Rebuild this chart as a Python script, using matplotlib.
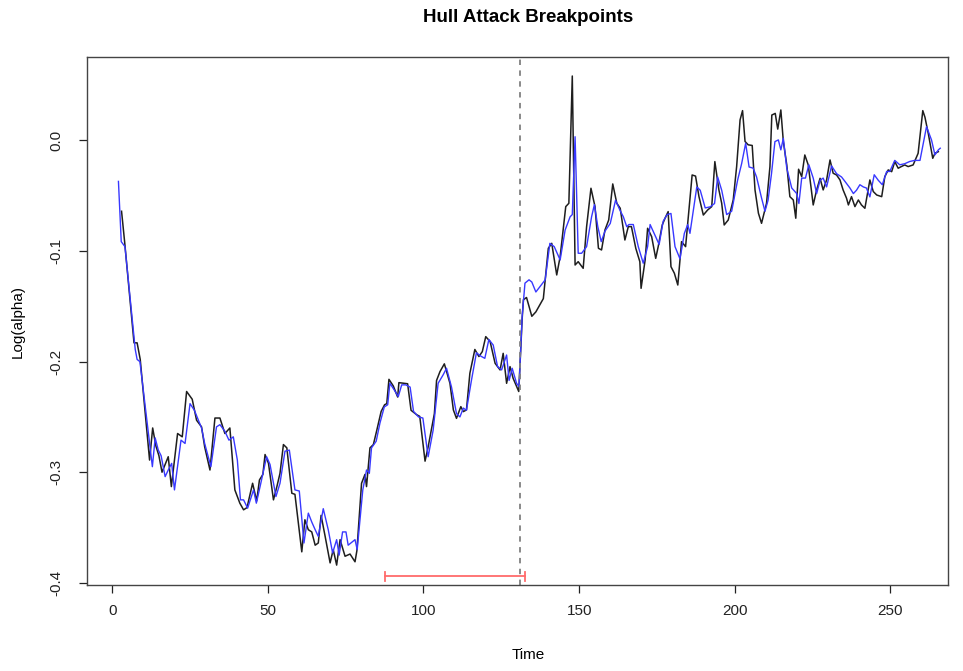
import matplotlib
matplotlib.use("Agg")
import matplotlib.pyplot as plt

plt.rcParams['font.family'] = ['Liberation Sans', 'DejaVu Sans']

obs_t = [3, 4, 7, 8, 9, 12, 13, 14, 15, 16, 18, 19, 21, 22.5, 23.9, 25.7, 27.1, 28.7, 29.7, 31.4,
         33, 34.6, 36.2, 37.8, 39.4, 41, 42.2, 43.3, 45.1, 45.9, 46.4, 47.3, 48.4, 49.1, 50.2,
         51.8, 52.9, 53.9, 55, 56.1, 57.7, 58.7, 60.9, 61.9, 63, 64.1, 65.2, 66.2, 67.1, 68.4,
         70, 71, 72.1, 73.2, 74.8, 76.4, 78, 78.6, 80.1, 81.2, 81.7, 82.8, 83.9, 85, 86.4, 87.5,
         88.2, 88.9, 90.3, 91.7, 92.1, 93.5, 94.9, 96, 97.8, 98.8, 100.5, 101.5, 103.5, 104.2,
         105.3, 106.7, 108.5, 109.6, 110.6, 112, 112.8, 113.8, 114.9, 116.5, 117.8, 118.9, 120,
         121.4, 123, 124.6, 125.6, 126.7, 127.8, 128.8, 130.6, 131.7, 132.1, 133.1, 134.8, 136.1,
         138.5, 140.1, 141.2, 142.8, 143.9, 144.9, 145.7, 146.7, 147.8, 148.7, 149.7, 151.3,
         152.4, 153.8, 155.1, 156.2, 157.2, 158.3, 159.5, 160.8, 162.1, 163.2, 164.7, 165.8,
         166.8, 168.2, 169.5, 169.9, 171.2, 172, 173.3, 174.6, 175.4, 176.7, 177.6, 178.6, 179.5,
         180.6, 181.7, 182.9, 184.2, 186.3, 187.4, 188.5, 189.9, 191.3, 192.6, 193.6, 194.9,
         195.8, 196.6, 197.9, 199.5, 200.6, 201.7, 202.5, 203.3, 204.3, 205.6, 206.5, 207.6,
         208.6, 210.2, 211.3, 211.9, 213, 213.8, 214.8, 215.6, 216.7, 217.7, 218.8, 219.6, 220.5,
         221.5, 222.5, 223.6, 225.2, 226.3, 227.4, 228.4, 229.5, 230.6, 231.6, 232.7, 233.8,
         234.8, 235.9, 236.5, 237.5, 238.6, 239.7, 240.7, 241.8, 243.4, 244.5, 245.6, 247.2,
         248.2, 249.3, 250.4, 251.4, 252.5, 253.5, 254.6, 255.7, 257.3, 258.9, 260.4, 261.1,
         262.2, 263.6, 264.3, 265.4]
obs_v = [-0.064, -0.092, -0.183, -0.183, -0.198, -0.289, -0.260, -0.276, -0.285, -0.300, -0.286,
         -0.313, -0.265, -0.268, -0.227, -0.234, -0.253, -0.259, -0.277, -0.298, -0.251, -0.251,
         -0.265, -0.260, -0.316, -0.328, -0.334, -0.332, -0.310, -0.320, -0.326, -0.307, -0.302,
         -0.284, -0.292, -0.325, -0.313, -0.301, -0.275, -0.278, -0.319, -0.320, -0.372, -0.343,
         -0.352, -0.354, -0.366, -0.364, -0.339, -0.358, -0.382, -0.370, -0.384, -0.361, -0.376,
         -0.374, -0.381, -0.371, -0.310, -0.302, -0.313, -0.278, -0.275, -0.262, -0.245, -0.239,
         -0.238, -0.216, -0.222, -0.232, -0.219, -0.2195, -0.220, -0.244, -0.248, -0.2495,
         -0.290, -0.277, -0.247, -0.217, -0.209, -0.202, -0.2196, -0.2437, -0.2513, -0.2407,
         -0.2452, -0.2437, -0.2105, -0.189, -0.1954, -0.1909, -0.1774, -0.1818, -0.2015,
         -0.2075, -0.1925, -0.2196, -0.2045, -0.2151, -0.227, -0.161, -0.144, -0.142, -0.159,
         -0.155, -0.143, -0.0975, -0.093, -0.1216, -0.105, -0.0794, -0.0598, -0.0568, 0.0583,
         -0.1126, -0.1096, -0.1156, -0.0779, -0.0432, -0.0598, -0.0975, -0.099, -0.0809,
         -0.0719, -0.0393, -0.0568, -0.0613, -0.090, -0.0779, -0.0779, -0.0975, -0.1096,
         -0.1337, -0.1081, -0.0794, -0.087, -0.1066, -0.096, -0.0764, -0.0703, -0.0643, -0.1141,
         -0.1201, -0.1307, -0.0915, -0.096, -0.0312, -0.0322, -0.0508, -0.0674, -0.0628,
         -0.0598, -0.0191, -0.0447, -0.0568, -0.0764, -0.0719, -0.0538, -0.0236, 0.0186, 0.027,
         -0.0009, -0.0039, -0.0045, -0.0447, -0.0658, -0.0749, -0.0568, -0.0236, 0.023, 0.0245,
         0.0103, 0.0276, -0.0009, -0.022, -0.0508, -0.0538, -0.0703, -0.026, -0.0327, -0.0131,
         -0.0221, -0.0583, -0.0447, -0.0342, -0.0447, -0.0357, -0.0176, -0.0296, -0.0312,
         -0.0357, -0.0447, -0.0522, -0.0583, -0.0508, -0.0598, -0.0538, -0.0583, -0.0613,
         -0.0357, -0.0462, -0.0493, -0.0508, -0.0327, -0.0266, -0.0282, -0.0191, -0.0251,
         -0.0236, -0.0221, -0.0236, -0.0221, -0.0116, 0.027, 0.021, 0.0058, -0.0161, -0.0116,
         -0.0101]

# fitted series (blue)
fit_t = [2, 2.9, 4.1, 7.4, 8, 8.9, 12.9, 13.8, 14.8, 15.7, 17, 18, 19.1, 20, 22.1, 23.4, 25,
         26.4, 27.7, 28.7, 29.7, 31.7, 33.5, 34.6, 36.2, 37.5, 38.9, 40.2, 41.2, 42.2, 43.5,
         45.4, 46.3, 47.5, 49.6, 50.7, 52.6, 53.9, 55.5, 56.9, 58.7, 60.1, 61.6, 63, 64.1, 65.2,
         66.2, 67.8, 69.4, 70.8, 72.1, 72.9, 74, 75.1, 75.8, 78, 78.7, 80.5, 81.7, 82.6, 83.3,
         84.8, 86, 87.4, 88.5, 89.2, 90.6, 91.9, 93, 94.3, 95.7, 96.8, 98.4, 99.8, 101.5, 103.1,
         104.7, 106.3, 107.4, 109, 110.6, 111.7, 112.8, 113.8, 115.4, 117, 118.4, 119.7, 121,
         122.4, 123.8, 125.1, 126.7, 127.5, 128.5, 129.9, 130.7, 131.7, 132.6, 133.9, 134.8,
         136.1, 139.1, 140.6, 142, 143.9, 145.5, 147.1, 147.8, 148.7, 149.7, 150.8, 152.4, 154,
         154.9, 156, 157.1, 158.3, 160, 161.7, 163.1, 164.2, 165.3, 166, 167.4, 169, 170.6, 172,
         172.8, 174.4, 175.7, 177, 178.3, 179.5, 180.8, 182.4, 183.8, 184.9, 185.6, 187.8, 188.9,
         190.5, 192.1, 193.5, 194.5, 195.8, 197.4, 199, 200.9, 202.2, 203.5, 204.6, 205.9, 207,
         208.6, 209.7, 210.7, 211.8, 212.9, 214, 214.8, 215.6, 216.7, 218.3, 219.9, 220.6, 221.5,
         222.7, 223.8, 225.2, 226.3, 227.4, 228.4, 229.5, 231.1, 232.7, 234.3, 235.4, 237, 238.1,
         239.1, 240.2, 241.3, 242.3, 243.4, 244.8, 246.1, 247.4, 248.8, 249.8, 251.4, 253, 254.6,
         256.2, 257.8, 259.5, 261.6, 263.2, 264.3, 265.4, 266]
fit_v = [-0.037, -0.0915, -0.096, -0.189, -0.198, -0.200, -0.295, -0.269, -0.280, -0.285, -0.304,
         -0.298, -0.292, -0.316, -0.271, -0.274, -0.238, -0.244, -0.253, -0.260, -0.274, -0.295,
         -0.259, -0.257, -0.263, -0.271, -0.268, -0.289, -0.325, -0.325, -0.3325, -0.316, -0.328,
         -0.313, -0.286, -0.293, -0.322, -0.310, -0.281, -0.280, -0.316, -0.317, -0.364, -0.337,
         -0.345, -0.352, -0.358, -0.333, -0.352, -0.373, -0.361, -0.375, -0.354, -0.354, -0.366,
         -0.361, -0.370, -0.316, -0.298, -0.301, -0.278, -0.272, -0.2557, -0.241, -0.239,
         -0.2196, -0.2256, -0.2316, -0.221, -0.221, -0.223, -0.245, -0.250, -0.251, -0.286,
         -0.262, -0.2196, -0.212, -0.206, -0.223, -0.247, -0.250, -0.242, -0.244, -0.217, -0.192,
         -0.195, -0.197, -0.180, -0.185, -0.2045, -0.2075, -0.194, -0.217, -0.206, -0.2196,
         -0.2226, -0.159, -0.129, -0.126, -0.128, -0.137, -0.126, -0.093, -0.096, -0.108, -0.081,
         -0.069, -0.067, 0.0034, -0.102, -0.102, -0.096, -0.069, -0.058, -0.078, -0.0915, -0.082,
         -0.075, -0.054, -0.063, -0.069, -0.078, -0.076, -0.076, -0.096, -0.111, -0.096, -0.076,
         -0.086, -0.094, -0.073, -0.067, -0.066, -0.096, -0.107, -0.084, -0.076, -0.084, -0.042,
         -0.045, -0.061, -0.060, -0.057, -0.033, -0.045, -0.067, -0.064, -0.036, -0.021, -0.0025,
         -0.024, -0.025, -0.033, -0.052, -0.064, -0.054, -0.030, -0.001, 0.0005, -0.0085, 0.002,
         -0.025, -0.043, -0.048, -0.057, -0.034, -0.034, -0.022, -0.034, -0.048, -0.036, -0.034,
         -0.042, -0.023, -0.030, -0.033, -0.037, -0.043, -0.048, -0.045, -0.040, -0.042, -0.043,
         -0.051, -0.031, -0.036, -0.040, -0.028, -0.028, -0.018, -0.022, -0.021, -0.019, -0.018,
         -0.018, 0.0125, 0.0005, -0.013, -0.0085, -0.007]

breakpoint = 131
ci_low, ci_high = 87.6, 132.6
ci_y = -0.394

fig = plt.figure(figsize=(9.63, 6.71), dpi=100)
ax = fig.add_axes([87 / 963, 86 / 671, 861 / 963, 528 / 671])

ax.plot(obs_t, obs_v, color='#1e1e1e', lw=1.1)
ax.plot(fit_t, fit_v, color='#3838ff', lw=1.0)
ax.axvline(breakpoint, color='#808080', lw=1.3, ls=(0, (3, 3)))
ax.plot([ci_low, ci_high], [ci_y, ci_y], color='#ff6b6b', lw=1.3)
ax.plot([ci_low, ci_low], [ci_y - 0.004, ci_y + 0.004], color='#ff6b6b', lw=1.3)
ax.plot([ci_high, ci_high], [ci_y - 0.004, ci_y + 0.004], color='#ff6b6b', lw=1.3)

ax.set_xlim(-8.1, 268.5)
ax.set_ylim(-0.402, 0.0755)
ax.set_xticks([0, 50, 100, 150, 200, 250])
ax.set_yticks([-0.4, -0.3, -0.2, -0.1, 0.0])
ax.set_yticklabels(['-0.4', '-0.3', '-0.2', '-0.1', '0.0'], rotation=90, va='center')
ax.tick_params(axis='both', direction='out', length=6, width=0.9, labelsize=11, colors='#222222')
ax.tick_params(axis='x', pad=8)
ax.tick_params(axis='y', pad=11)
for s in ax.spines.values():
    s.set_color('#444444')
    s.set_linewidth(1.0)

fig.text(528 / 963, 1 - 18 / 671, 'Hull Attack Breakpoints', ha='center', va='center',
         fontsize=13.5, fontweight='bold')
fig.text(528 / 963, 1 - 655 / 671, 'Time', ha='center', va='center', fontsize=11)
fig.text(18 / 963, 1 - 321 / 671, 'Log(alpha)', ha='center', va='center', fontsize=11,
         rotation=90)

fig.savefig('out.png', dpi=100)
